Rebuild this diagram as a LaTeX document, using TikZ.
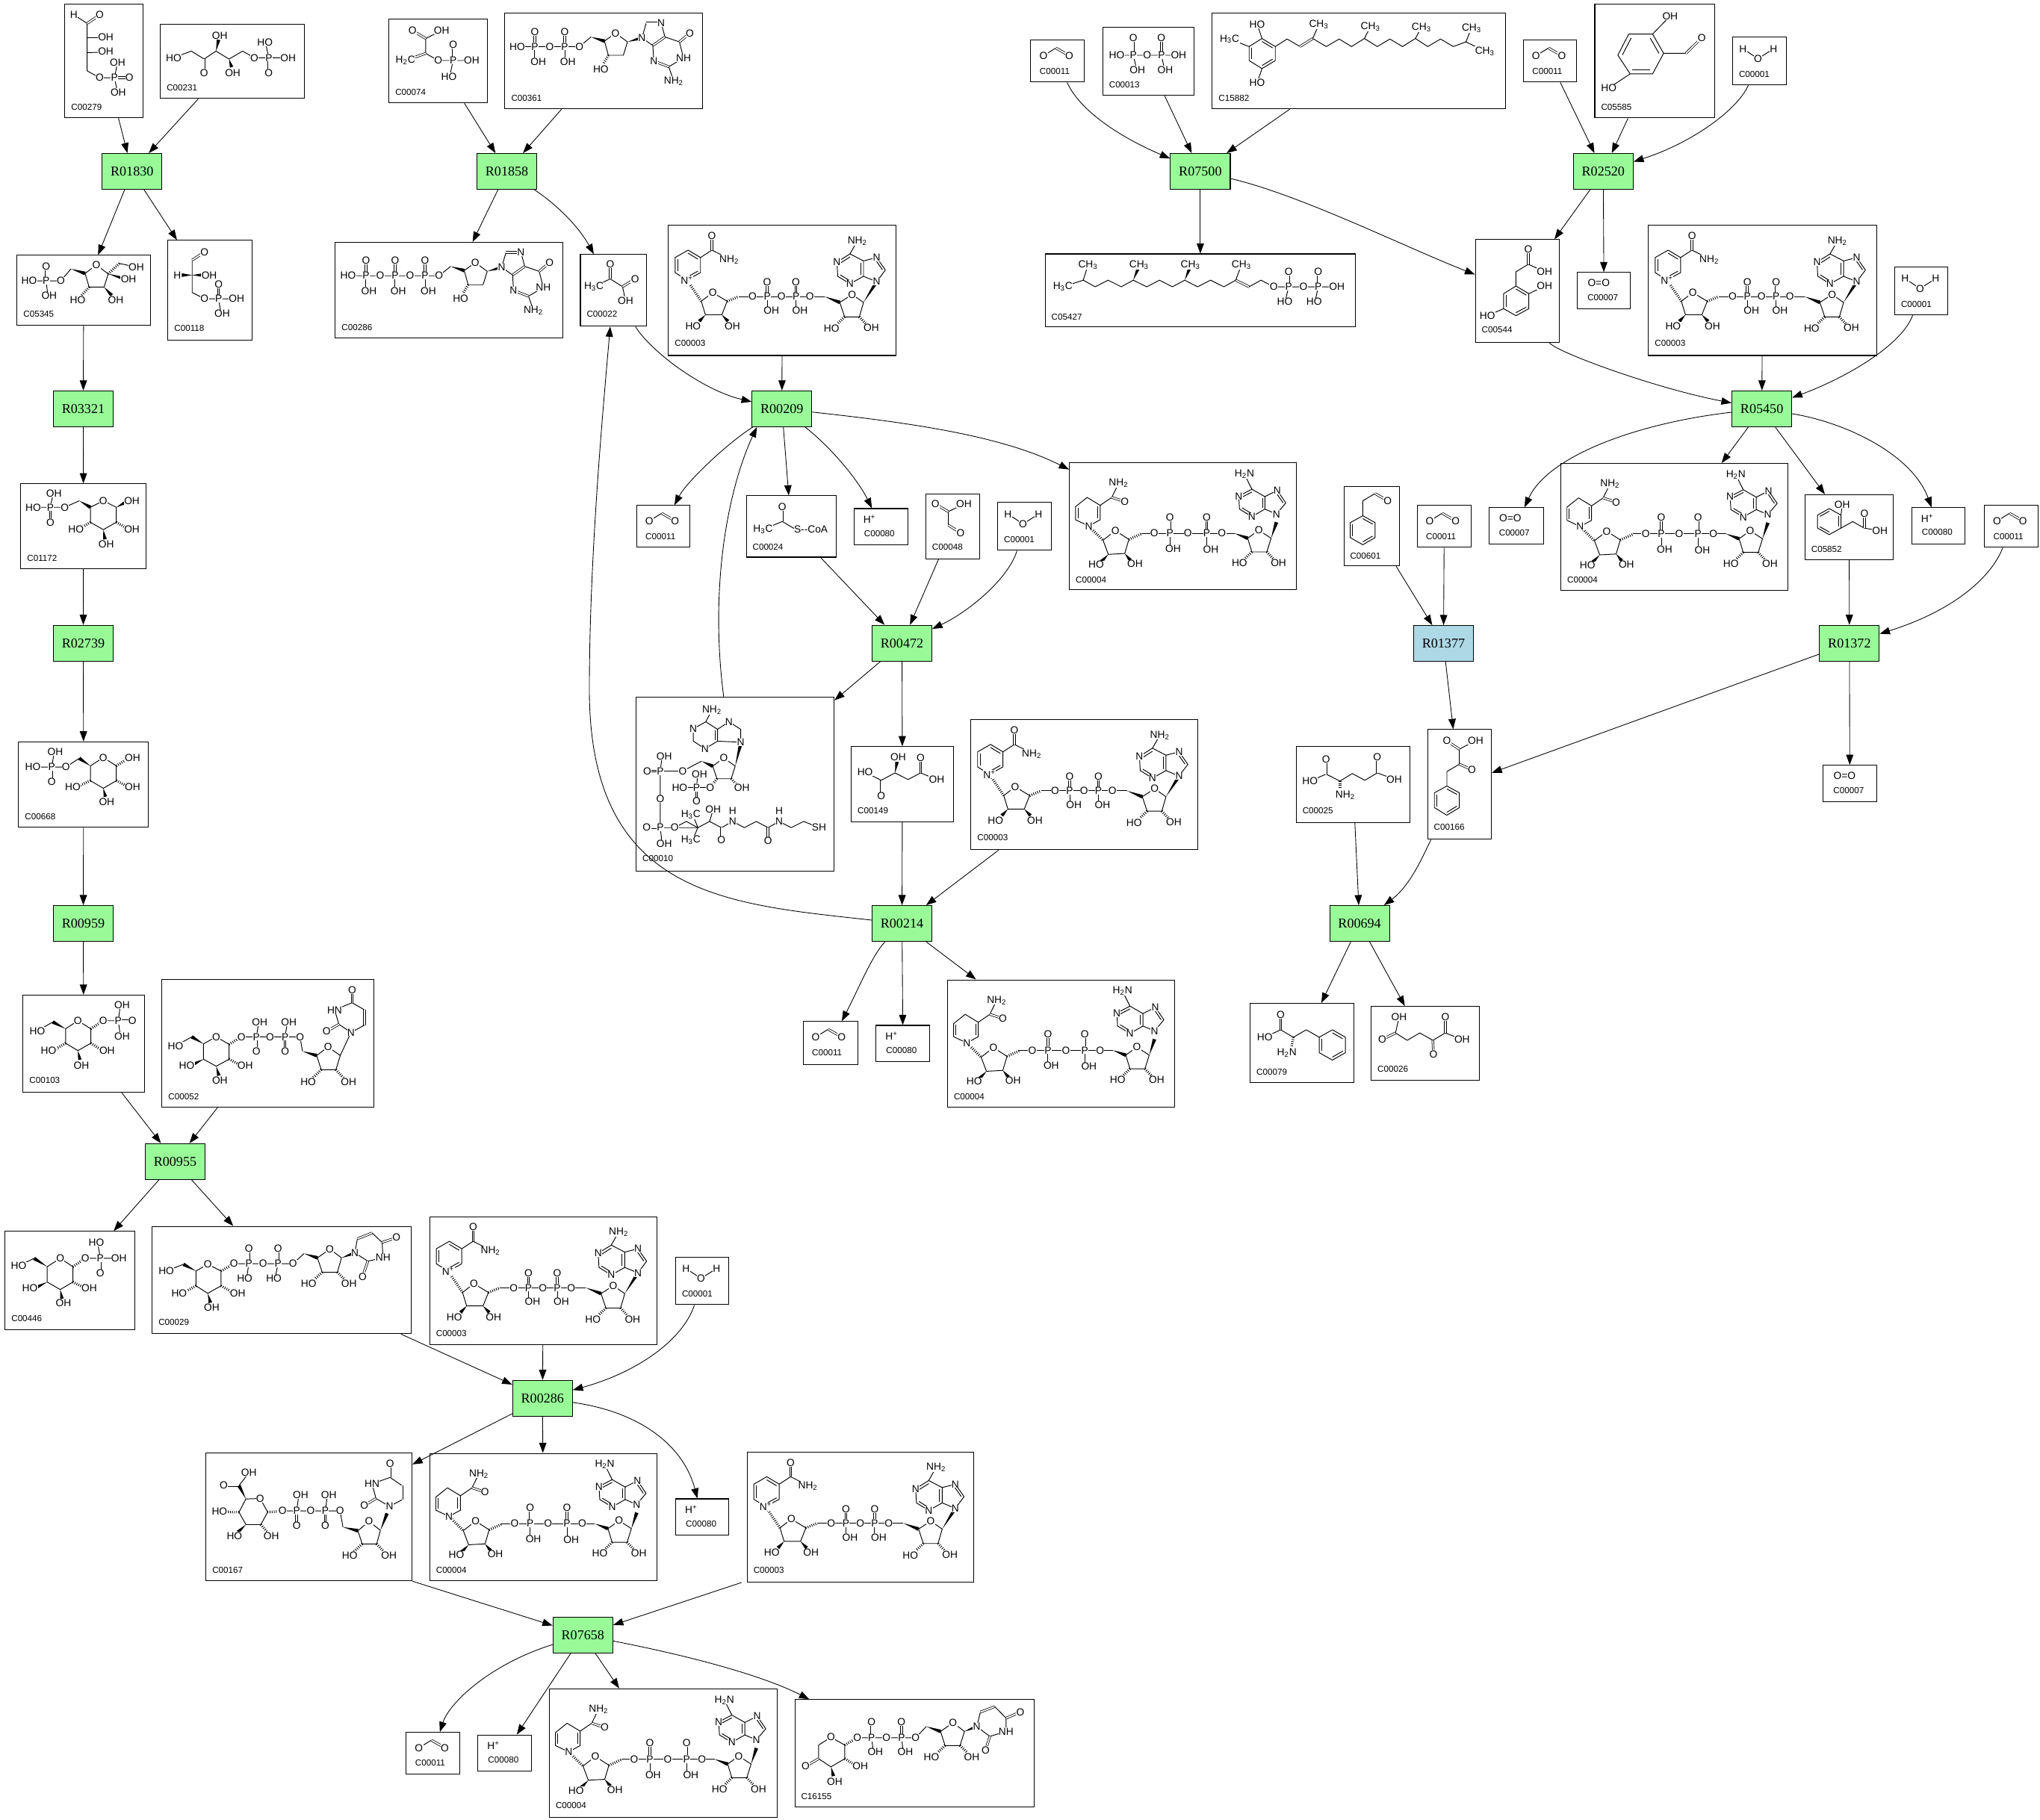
\documentclass[tikz,border=0pt]{standalone}
\usepackage{fontspec}
\setmainfont{Liberation Serif}
\newfontfamily\chemfont{Liberation Sans}
\usetikzlibrary{positioning,arrows.meta,calc}

\definecolor{rgreen}{RGB}{152,251,152}
\definecolor{rblue}{RGB}{173,216,230}

\tikzset{
  cpd/.style={draw=black, line width=0.6pt, inner sep=0pt, anchor=north west},
  cid/.style={font=\chemfont\fontsize{6.7}{7}\selectfont, inner sep=0pt, anchor=west},
  rct/.style={draw=black, line width=0.6pt, fill=rgreen, minimum width=46pt, minimum height=27.6pt, inner sep=0pt, font=\fontsize{10.4}{12}\selectfont},
  rctb/.style={rct, fill=rblue},
  edge/.style={draw=black, line width=0.5pt, -{Triangle[length=7.8pt,width=5.6pt]}},
  atm/.style={font=\chemfont\fontsize{7.9}{8}\selectfont, fill=white, inner sep=0.2pt},
  bnd/.style={draw=black, line width=0.55pt, line join=round},
  dbl/.style={draw=black, line width=0.45pt, double, double distance=1pt},
  hsh/.style={draw=black, line width=2pt, dash pattern=on 0.5pt off 1.1pt}
}

\newcounter{atmno}
\newcommand{\atm}[2]{\stepcounter{atmno}\node[atm] (atm\arabic{atmno}) at (#1) {#2};}
\newcommand{\wdg}[2]{\fill ($(#2)!1.4pt!90:(#1)$) -- ($(#2)!1.4pt!-90:(#1)$) -- (#1) -- cycle;}
\newcommand{\ibd}[3]{\draw[bnd] ($(#1)!.2!(#3)$) -- ($(#2)!.2!(#3)$);}
% [label x], name, id, left, top, width, height, label y, molecule
\newcommand{\cpdbox}[9][5]{
  \node[cpd, minimum width=#6pt, minimum height=#7pt] (#2) at (#4,#5) {};
  \begin{scope}[shift={(#4,#5)}]
    \node[cid] (#2id) at (#1,#8) {#3};
    #9
  \end{scope}
}

% small ones
\newcommand{\molWater}{\draw[bnd] (8.2,9.2)--(19.8,16.8)--(31.8,9.2); \atm{8.2,9.2}{H} \atm{19.8,16.8}{O} \atm{31.8,9.2}{H}}
\newcommand{\molCarb}{\draw[bnd] (10,12.2)--(19.6,6.3); \draw[dbl] (19.6,6.3)--(29.9,12.2); \atm{10,12.2}{O} \atm{29.9,12.2}{O}}
\newcommand{\molProton}{\atm{12.3,8.4}{H\textsuperscript{+}}}
\newcommand{\molOxy}{\atm{16.8,8.4}{O=O}}

% nucleotides
\newcommand{\molNad}{
  \draw[bnd] (5.4,25)--(15.4,19.3)--(24.9,25)--(24.9,36.6)--(14.5,42.3)--(5.4,36.6)--cycle;
  \ibd{5.4,25}{5.4,36.6}{15,31} \ibd{15.4,19.3}{24.9,25}{15,31} \ibd{24.9,36.6}{14.5,42.3}{15,31}
  \draw[bnd] (24.9,25)--(33.7,19.3)--(47,26); \draw[dbl] (33.7,19.3)--(33.7,8.4);
  \draw[hsh] (14.5,42.3)--(25.5,58.6);
  \draw[bnd] (25.5,58.6)--(34.3,51.9)--(45.4,58.6)--(41.3,69)--(28.7,69)--cycle;
  \wdg{28.7,69}{24,74} \wdg{41.3,69}{46,74}
  \draw[hsh] (45.4,58.6)--(54.2,55);
  \draw[bnd] (54.2,55)--(120.3,55); \draw[bnd] (76.2,55)--(76.2,65) (98.3,55)--(98.3,65);
  \draw[dbl] (76.2,55)--(76.2,44); \draw[dbl] (98.3,55)--(98.3,44);
  \wdg{120.3,55}{132,59.5}
  \draw[bnd] (132,59.5)--(141.4,53.4)--(150.2,59.5)--(147,70.6)--(135.7,70.6)--cycle;
  \draw[hsh] (135.7,70.6)--(130,76); \draw[hsh] (147,70.6)--(152,76);
  \wdg{150.2,59.5}{160.3,43.6}
  \draw[bnd] (160.3,43.6)--(167,34.6)--(160.3,25)--(150.2,27.6)--(150.2,39.4)--cycle;
  \ibd{167,34.6}{160.3,25}{156,34}
  \draw[bnd] (150.2,39.4)--(139.8,45.2)--(130.4,39.4)--(129.8,28.5)--(139.8,22.2)--(150.2,27.6);
  \draw[bnd] (139.8,22.2)--(145.5,12.2);
  \ibd{150.2,27.6}{150.2,39.4}{140,34} \ibd{129.8,28.5}{139.8,22.2}{140,34} \ibd{139.8,45.2}{130.4,39.4}{140,34}
  \atm{33.7,8.4}{O} \atm{47,26.5}{NH\textsubscript{2}} \atm{14.5,42.3}{N\textsuperscript{+}}
  \atm{34.3,51.9}{O} \atm{19.2,77.7}{HO} \atm{49.4,77.7}{OH}
  \atm{64.9,55}{O} \atm{76.2,55}{P} \atm{76.2,44}{O} \atm{79.4,65.8}{OH}
  \atm{87.2,55}{O} \atm{98.3,55}{P} \atm{98.3,44}{O} \atm{101.4,65.8}{OH} \atm{109,55}{O}
  \atm{141.4,53.4}{O} \atm{125.7,79.6}{HO} \atm{156.2,79.2}{OH}
  \atm{160.3,43.6}{N} \atm{160.3,25}{N} \atm{139.8,45.2}{N} \atm{129.8,28.5}{N} \atm{145.5,12.2}{NH\textsubscript{2}}
}
\newcommand{\molNadh}{
  \draw[bnd] (5,33.9)--(13.9,26.8)--(23.9,32.9)--(23.9,44)--(15.1,48.8)--(5,44)--cycle;
  \ibd{5,33.9}{5,44}{14,38} \ibd{23.9,32.9}{23.9,44}{14,38}
  \draw[bnd] (23.9,32.9)--(32.8,26.8)--(38.1,16); \draw[dbl] (32.8,26.8)--(42.8,30);
  \draw[hsh] (15.1,48.8)--(26.1,59.7);
  \draw[bnd] (26.1,59.7)--(35.6,52.4)--(46,59.1)--(42.8,69.9)--(30.2,70.6)--cycle;
  \wdg{30.2,70.6}{25,76} \wdg{42.8,69.9}{47,75}
  \draw[hsh] (46,59.1)--(55.4,54.9);
  \draw[bnd] (55.4,54.4)--(127.2,54.4); \draw[bnd] (77.5,54.4)--(77.5,65) (105.8,54.4)--(105.8,65);
  \draw[dbl] (77.5,54.4)--(77.5,41.9); \draw[dbl] (105.8,54.4)--(105.8,41.9);
  \wdg{127.2,54.4}{137.3,58.2}
  \draw[bnd] (137.3,58.2)--(145.8,52)--(155.3,58.2)--(152,68.7)--(140.5,68.7)--cycle;
  \draw[hsh] (140.5,68.7)--(135,74); \draw[hsh] (152,68.7)--(157,74);
  \wdg{155.3,58.2}{159.4,45.9}
  \draw[bnd] (159.4,39.6)--(166.6,31)--(160,21.4)--(150.5,26.2)--(150.5,35.8)--cycle;
  \ibd{166.6,31}{160,21.4}{156,31}
  \draw[bnd] (150.5,35.8)--(140.5,41.5)--(131,35.8)--(130.4,25.8)--(140.5,20.5)--(150.5,26.2);
  \draw[bnd] (140.5,20.5)--(134.8,9);
  \ibd{150.5,26.2}{150.5,35.8}{141,31} \ibd{130.4,25.8}{140.5,20.5}{141,31} \ibd{140.5,41.5}{131,35.8}{141,31}
  \atm{38.1,16}{NH\textsubscript{2}} \atm{42.8,30}{O} \atm{15.1,48.8}{N}
  \atm{35.6,52.4}{O} \atm{20.8,78.5}{HO} \atm{50.7,77.9}{OH}
  \atm{65.5,54.4}{O} \atm{77.5,54.4}{P} \atm{77.5,41.9}{O} \atm{80,66.4}{OH}
  \atm{91.3,54.4}{O} \atm{105.8,54.4}{P} \atm{105.8,41.9}{O} \atm{109,66.8}{OH} \atm{117.5,54.4}{O}
  \atm{145.8,52}{O} \atm{131,77.3}{HO} \atm{161,77.3}{OH}
  \atm{159.4,39.6}{N} \atm{160,21.4}{N} \atm{140.5,41.5}{N} \atm{130.4,25.8}{N} \atm{134.8,9}{H\textsubscript{2}N}
}
% deoxyguanosine tail, drawn from the CH2 on
\newcommand{\dguo}{
  \wdg{66.4,18.4}{76.8,21.6}
  \draw[bnd] (76.8,21.6)--(85.3,15.5)--(94.5,22.2)--(91.3,32.5)--(79.8,32.5)--cycle;
  \draw[hsh] (79.8,32.5)--(76,39);
  \wdg{94.5,22.2}{105.6,19.1}
  \draw[bnd] (105.6,19.1)--(108.9,7.7); \draw[dbl] (108.9,7.7)--(120.4,7.7);
  \draw[bnd] (120.4,7.7)--(123.3,18.4); \draw[dbl] (123.3,18.4)--(114,25);
  \draw[bnd] (114,25)--(105.6,19.1) (114,25)--(114.7,36.9) (123.3,18.4)--(134.4,22.2)--(137.6,34.6)--(126.2,41.3)--(130,52.2);
  \draw[dbl] (114.7,36.9)--(126.2,41.3); \draw[dbl] (134.4,22.2)--(142.4,15.5);
  \atm{85.3,15.5}{O} \atm{74,43.3}{HO} \atm{105.6,19.1}{N} \atm{120.4,7.7}{N} \atm{114.7,36.9}{N}
  \atm{137.6,34.6}{NH} \atm{130,52.2}{NH\textsubscript{2}} \atm{142.4,15.5}{O}
}
\newcommand{\molDgdp}{
  \draw[bnd] (9.8,25.8)--(57.6,25.8)--(66.4,18.4); \draw[bnd] (23.2,25.8)--(23.2,36) (46.3,25.8)--(46.3,36);
  \draw[dbl] (23.2,25.8)--(23.2,14.4); \draw[dbl] (46.3,25.8)--(46.3,14.4);
  \dguo
  \atm{9.8,25.8}{HO} \atm{23.2,25.8}{P} \atm{23.2,14.4}{O} \atm{26,37.3}{OH} \atm{34.8,25.8}{O}
  \atm{46.3,25.8}{P} \atm{46.3,14.4}{O} \atm{48.7,37.3}{OH} \atm{57.6,25.8}{O}
}
\newcommand{\molDgtp}{
  \draw[bnd] (10.1,26)--(80,26)--(89,18.8); \draw[bnd] (23.9,26)--(23.9,36) (46.3,26)--(46.3,36) (69.3,26)--(69.3,36);
  \draw[dbl] (23.9,26)--(23.9,14.5); \draw[dbl] (46.3,26)--(46.3,14.5); \draw[dbl] (69.3,26)--(69.3,14.5);
  \begin{scope}[shift={(22.6,0.4)}]\dguo\end{scope}
  \atm{10.1,26}{HO} \atm{23.9,26}{P} \atm{23.9,14.5}{O} \atm{26.2,37.5}{OH} \atm{34.8,26}{O}
  \atm{46.3,26}{P} \atm{46.3,14.5}{O} \atm{48.8,37.5}{OH} \atm{57.8,26}{O}
  \atm{69.3,26}{P} \atm{69.3,14.5}{O} \atm{71.8,37.5}{OH} \atm{80,26}{O}
}
\newcommand{\molCoa}{
  \draw[bnd] (58.5,10)--(53.8,19.1)--(44.2,24.5)--(44.2,34)--(53.2,39.8)--(62.8,34)--(62.8,24.9)--(53.8,19.1);
  \draw[bnd] (62.8,24.9)--(71.6,19.1)--(80.6,24.9)--(80.6,34.8)--(62.8,34);
  \ibd{62.8,24.9}{62.8,34}{54,29}
  \wdg{76.4,53.2}{80.6,36}
  \draw[bnd] (76.4,53.2)--(67.6,46.9)--(59.1,53.2)--(62.4,62.9)--(73.3,62.9)--cycle;
  \draw[hsh] (73.3,62.9)--(78,68); \draw[hsh] (62.4,62.9)--(57.2,69.6);
  \draw[bnd] (57.2,69.6)--(33.7,69.6) (46.7,69.6)--(47.5,60); \draw[dbl] (46.7,69.6)--(46.7,80.1);
  \wdg{50.5,49.4}{59.1,53.2}
  \draw[bnd] (50.5,49.4)--(36,57)--(18.8,57)--(18.8,100.5)--(47.7,100.5) (18.8,57)--(20,47) (18.8,100.5)--(20,111);
  \draw[dbl] (18.8,57)--(8.8,57); \draw[dbl] (18.8,100.5)--(8.4,100.5);
  \draw[bnd] (29.9,100.5)--(38.8,95.7)--(47.7,100.5)--(56.7,95.7)--(65.8,100.5)--(74.4,95.7)--(83.4,100.5)--(92.6,95.7)--(101.6,100.5)--(110.2,95.7)--(119.4,100.5)--(129,95.7)--(140.8,100.5);
  \draw[bnd] (47.7,100.5)--(44,91) (47.7,100.5)--(44,109) (56.7,95.7)--(59.5,86.5);
  \draw[dbl] (65.8,100.5)--(65.8,110); \draw[dbl] (101.6,100.5)--(101.6,110.7);
  \atm{58.5,10}{NH\textsubscript{2}} \atm{44.2,24.5}{N} \atm{53.2,39.8}{N} \atm{71.6,19.1}{N} \atm{80.6,34.8}{N}
  \atm{67.6,46.9}{O} \atm{81.5,69.6}{OH} \atm{57.2,69.6}{O} \atm{46.7,69.6}{P} \atm{49,59.5}{OH} \atm{33.7,69.6}{HO} \atm{46.7,80.1}{O}
  \atm{36,57}{O} \atm{18.8,57}{P} \atm{8.8,57}{O} \atm{21.8,45.4}{OH} \atm{18.8,78.5}{O}
  \atm{18.8,100.5}{P} \atm{8.4,100.5}{O} \atm{21.8,113}{OH} \atm{29.9,100.5}{O}
  \atm{42.3,90.3}{H\textsubscript{3}C} \atm{42.3,110}{H\textsubscript{3}C} \atm{59.5,86.5}{OH} \atm{65.8,110}{O}
  \atm{74.4,95.7}{N} \atm{74.4,87.6}{H} \atm{101.6,110.7}{O} \atm{110.2,95.7}{N} \atm{110.2,87.6}{H} \atm{140.8,100.5}{SH}
}
% uridine diphospho sugars
\newcommand{\molUdpGal}{
  \wdg{32.2,49.6}{23.2,44.2} \draw[bnd] (23.2,44.2)--(10.7,51.3);
  \draw[bnd] (32.2,49.6)--(42,44.2)--(51.9,50)--(51.9,61.4)--(42,66.8)--(32.2,61.4)--cycle;
  \wdg{32.2,61.4}{24,65.5} \draw[hsh] (51.9,61.4)--(60,65.5); \wdg{42,66.8}{44,74} \draw[hsh] (51.9,50)--(61.4,44.2);
  \draw[bnd] (61.4,44.2)--(106.4,44.2)--(108.3,55.3) (72.9,44.2)--(74.5,34) (94.9,44.2)--(96.5,34);
  \draw[dbl] (72.9,44.2)--(72.9,55.3); \draw[dbl] (94.9,44.2)--(94.9,55.3);
  \wdg{108.3,55.3}{119.2,58.6}
  \draw[bnd] (119.2,58.6)--(128,51.9)--(137.3,58.6)--(134,69.5)--(122.7,69.5)--cycle;
  \draw[hsh] (122.7,69.5)--(116,76); \draw[hsh] (134,69.5)--(140,76);
  \draw[bnd] (137.3,58.6)--(145.6,40.8)--(136.3,34.6)--(133,23.5)--(146.5,18)--(156,23.5); \draw[dbl] (156,23.5)--(156,35.2);
  \draw[bnd] (156,35.2)--(145.6,40.8); \draw[dbl] (136.3,34.6)--(126.8,40); \draw[dbl] (146.5,18)--(146.5,8.4);
  \atm{10.7,51.3}{HO} \atm{42,44.2}{O} \atm{19.3,66.2}{HO} \atm{64.3,66.2}{OH} \atm{44.8,77.7}{OH}
  \atm{61.4,44.2}{O} \atm{72.9,44.2}{P} \atm{75.4,32.7}{OH} \atm{72.9,55.3}{O} \atm{83.4,44.2}{O}
  \atm{94.9,44.2}{P} \atm{97.8,32.7}{OH} \atm{94.9,55.3}{O} \atm{106.4,44.2}{O}
  \atm{128,51.9}{O} \atm{112.7,78.7}{HO} \atm{143.8,78.7}{OH}
  \atm{145.6,40.8}{N} \atm{126.8,40}{O} \atm{133,23.5}{HN} \atm{146.5,8.4}{O}
}
\newcommand{\molUdpGlc}{
  \wdg{33.9,34.6}{24.3,29.5} \draw[bnd] (24.3,29.5)--(11.1,34.6);
  \draw[bnd] (33.9,34.6)--(43,29.5)--(53.2,34.6)--(53.2,46)--(43,51.8)--(33.9,46)--cycle;
  \draw[hsh] (33.9,46)--(25,51); \draw[hsh] (53.2,46)--(62,51); \wdg{43,51.8}{45,59} \draw[hsh] (53.2,34.6)--(63.2,29);
  \draw[bnd] (63.2,29)--(108.5,29)--(117,21.2) (74.6,29)--(73,39) (97,29)--(95,39);
  \draw[dbl] (74.6,29)--(74.6,17.4); \draw[dbl] (97,29)--(97,17.4);
  \wdg{117,21.2}{127.3,24.5}
  \draw[bnd] (127.3,24.5)--(136.8,17.8)--(145.8,24.5)--(142.6,35.6)--(131,35.6)--cycle;
  \draw[hsh] (131,35.6)--(125,41); \draw[hsh] (142.6,35.6)--(148,41);
  \wdg{145.8,24.5}{156,20.7}
  \draw[bnd] (156,20.7)--(158,9.8); \draw[dbl] (158,9.8)--(169.3,5.4);
  \draw[bnd] (169.3,5.4)--(177,12.6)--(177.7,24.5)--(166,27)--(156,20.7); \draw[dbl] (166,27)--(162,39); \draw[dbl] (177,12.6)--(188,9);
  \atm{11.1,34.6}{HO} \atm{43,29.5}{O} \atm{21,51.5}{HO} \atm{66,51.5}{OH} \atm{46,62.8}{OH}
  \atm{63.2,29}{O} \atm{74.6,29}{P} \atm{74.6,17.4}{O} \atm{71.4,40.4}{HO} \atm{85.5,29}{O}
  \atm{97,29}{P} \atm{97,17.4}{O} \atm{93.8,40.4}{HO} \atm{108.5,29}{O}
  \atm{136.8,17.8}{O} \atm{120.5,44.2}{HO} \atm{151.6,44.2}{OH}
  \atm{156,20.7}{N} \atm{162,39}{O} \atm{177.7,24.5}{NH} \atm{188,9}{O}
}
\newcommand{\molUdpGlcA}{
  \draw[dbl] (25.7,25.3)--(14,25.3); \draw[bnd] (25.7,25.3)--(33.3,15.5); \wdg{31,35.6}{25.7,25.3}
  \draw[bnd] (31,35.6)--(42,35.2)--(47.7,45.7)--(42.5,55.3)--(31,55.3)--(25.7,45.7)--cycle;
  \draw[hsh] (25.7,45.7)--(16,45.5); \wdg{31,55.3}{25,61} \draw[hsh] (42.5,55.3)--(47,60.5); \draw[hsh] (47.7,45.7)--(59.1,44.8);
  \draw[bnd] (59.1,44.8)--(103.4,44.8)--(105.6,57.2) (70,44.8)--(71.5,34) (92,44.8)--(93.5,34);
  \draw[dbl] (70,44.8)--(70,56.3); \draw[dbl] (92,44.8)--(92,56.3);
  \wdg{105.6,57.2}{117.1,60}
  \draw[bnd] (117.1,60)--(125.6,52.8)--(134.4,59.7)--(131.5,70.2)--(120.4,70.2)--cycle;
  \draw[hsh] (120.4,70.2)--(114,76); \draw[hsh] (131.5,70.2)--(137,76);
  \wdg{134.4,59.7}{139.5,46.7}
  \draw[bnd] (141.4,41.3)--(131,35.2)--(128,24)--(141.8,19)--(151,25.3); \draw[dbl] (151,25.3)--(151,36.2); \draw[bnd] (151,36.2)--(141.4,41.3);
  \draw[dbl] (131,35.2)--(122,40.6); \draw[dbl] (141.8,19)--(141.8,8.4);
  \atm{14,25.3}{O} \atm{33.3,15.5}{OH} \atm{42,35.2}{O} \atm{10.7,45.2}{HO} \atm{22.2,63.9}{HO} \atm{50.5,63.9}{OH}
  \atm{59.1,44.8}{O} \atm{70,44.8}{P} \atm{73.1,32.3}{OH} \atm{70,56.3}{O} \atm{80.8,44.8}{O}
  \atm{92,44.8}{P} \atm{94.7,32.3}{OH} \atm{92,56.3}{O} \atm{103.4,44.8}{O}
  \atm{125.6,52.8}{O} \atm{110.8,78.9}{HO} \atm{141,78.9}{OH}
  \atm{141.4,41.3}{N} \atm{122,40.6}{O} \atm{128,24}{HN} \atm{141.8,8.4}{O}
}
\newcommand{\molUdpKeto}{
  \draw[bnd] (18.6,35.2)--(28.1,29.1)--(38.7,35.2)--(38.7,45.7)--(28.1,51.9)--(18.6,45.7)--cycle;
  \draw[dbl] (18.6,45.7)--(8.6,51.5); \wdg{28.1,51.9}{30,59} \draw[hsh] (38.7,45.7)--(46,50); \draw[hsh] (38.7,35.2)--(48.4,29.5);
  \draw[bnd] (48.4,29.5)--(93.2,29.5)--(101.4,20.9) (59.3,29.5)--(60.5,39) (82.3,29.5)--(83.5,39);
  \draw[dbl] (59.3,29.5)--(59.3,17.6); \draw[dbl] (82.3,29.5)--(82.3,17.6);
  \wdg{101.4,20.9}{112.3,24.7}
  \draw[bnd] (112.3,24.7)--(121.9,18)--(130.7,24.7)--(127.3,35.6)--(115.8,35.6)--cycle;
  \draw[hsh] (115.8,35.6)--(110,41); \draw[hsh] (127.3,35.6)--(133,41);
  \wdg{130.7,24.7}{140.1,20.9}
  \draw[bnd] (140.1,20.9)--(143,9.8); \draw[dbl] (143,9.8)--(154,5.6);
  \draw[bnd] (154,5.6)--(162.7,14.5)--(162.7,24.7)--(150.2,28.5)--(140.1,20.9); \draw[dbl] (162.7,14.5)--(173.6,9.8); \draw[dbl] (150.2,28.5)--(147,39);
  \atm{28.1,29.1}{O} \atm{8.6,51.5}{O} \atm{31,63.3}{OH} \atm{50.7,51.5}{OH}
  \atm{48.4,29.5}{O} \atm{59.3,29.5}{P} \atm{59.3,17.6}{O} \atm{62.2,40.4}{OH} \atm{70.8,29.5}{O}
  \atm{82.3,29.5}{P} \atm{82.3,17.6}{O} \atm{85.2,40.4}{OH} \atm{93.2,29.5}{O}
  \atm{121.9,18}{O} \atm{105.3,44.2}{HO} \atm{136.3,44.2}{OH}
  \atm{140.1,20.9}{N} \atm{173.6,9.8}{O} \atm{162.7,24.7}{NH} \atm{147,39}{O}
}
% sugar phosphates
\newcommand{\molThreoseP}{
  \draw[bnd] (7.2,8.4)--(17.4,15)--(17.4,51.5)--(27,56.8)--(38.4,56.8)--(40.5,46) (38.4,56.8)--(40.5,67) (17.4,26)--(31,26) (17.4,37.5)--(31,37);
  \draw[dbl] (17.4,15)--(27,8.4); \draw[dbl] (38.4,56.8)--(49.9,56.8);
  \atm{7.2,8.4}{H} \atm{27,8.4}{O} \atm{31.7,25.3}{OH} \atm{31.7,36.7}{OH} \atm{27,56.8}{O}
  \atm{38.4,56.8}{P} \atm{49.9,56.8}{O} \atm{40.8,45.2}{OH} \atm{41.3,67.8}{OH}
}
\newcommand{\molKetoseP}{
  \draw[bnd] (10.5,25.8)--(24,20.7)--(33.9,26.8)--(43,20.7)--(53,26.8)--(63.5,20.7)--(72.5,25.8)--(98.4,25.8) (83.6,25.8)--(81,14);
  \draw[dbl] (33.9,26.8)--(33.9,37.3); \draw[dbl] (83.6,25.8)--(83.6,37.3);
  \wdg{43,20.7}{45,12} \wdg{53,26.8}{55,33}
  \atm{10.5,25.8}{HO} \atm{33.9,37.3}{O} \atm{45.9,8.6}{OH} \atm{55.9,37.3}{OH} \atm{72.5,25.8}{O}
  \atm{83.6,25.8}{P} \atm{80.7,14}{HO} \atm{83.6,37.3}{O} \atm{98.4,25.8}{OH}
}
\newcommand{\molFructoseP}{
  \draw[bnd] (9.6,19.9)--(34,19.9)--(41.7,10.7) (22.6,19.9)--(24,31); \draw[dbl] (22.6,19.9)--(22.6,8.8);
  \wdg{41.7,10.7}{52.6,14.2}
  \draw[bnd] (52.6,14.2)--(61.2,7.8)--(70.4,14.5)--(67.2,24.7)--(55.7,24.7)--cycle;
  \draw[hsh] (70.4,14.5)--(79,6.5); \draw[bnd] (79,6.5)--(92,9.4); \wdg{70.4,14.5}{83,18.4} \wdg{67.2,24.7}{73,31} \draw[hsh] (55.7,24.7)--(50,31);
  \atm{22.6,8.8}{O} \atm{22.6,19.9}{P} \atm{9.6,19.9}{HO} \atm{25,31.4}{OH} \atm{34,19.9}{O} \atm{61.2,7.8}{O}
  \atm{92,9.4}{OH} \atm{86,18.4}{OH} \atm{76.2,34.6}{OH} \atm{46.9,34.6}{HO}
}
\newcommand{\molGap}{
  \draw[bnd] (18.9,15.5)--(18.9,40.4)--(28.4,45.2)--(53,45.2) (39.2,45.2)--(41,56) ; \draw[dbl] (18.9,15.5)--(28.4,9.2); \draw[dbl] (39.2,45.2)--(39.2,34.3);
  \wdg{18.9,27}{11,27} \wdg{18.9,27}{27,27}
  \atm{28.4,9.2}{O} \atm{7.4,27}{H} \atm{32,27}{OH} \atm{28.4,45.2}{O} \atm{39.2,45.2}{P} \atm{39.2,34.3}{O} \atm{53,45.2}{OH} \atm{42,56.6}{OH}
}
\newcommand{\molGlcPa}{
  \draw[bnd] (9.8,18.4)--(34.1,18.4)--(45.2,13.4) (23,18.4)--(25,8.5); \draw[dbl] (23,18.4)--(23,29.9);
  \wdg{45.2,13.4}{53.8,18.4}
  \draw[bnd] (53.8,18.4)--(63.7,13.4)--(73.7,18.4)--(73.7,29.9)--(63.7,35.6)--(53.8,29.9)--cycle;
  \wdg{73.7,18.4}{81,14.5} \draw[hsh] (73.7,29.9)--(81,34); \wdg{63.7,35.6}{65,43} \draw[hsh] (53.8,29.9)--(47,34);
  \atm{23,18.4}{P} \atm{25.8,7.7}{OH} \atm{9.8,18.4}{HO} \atm{23,29.9}{O} \atm{34.1,18.4}{O} \atm{63.7,13.4}{O}
  \atm{85.7,13.4}{OH} \atm{85.7,35.6}{OH} \atm{66,47}{OH} \atm{42.7,35.6}{HO}
}
\newcommand{\molGlcPb}{
  \draw[bnd] (11.3,19.7)--(36.7,19.7)--(46.9,13) (25.8,19.7)--(27.5,9); \draw[dbl] (25.8,19.7)--(25.8,31.2);
  \wdg{55.5,18.8}{46.9,13}
  \draw[bnd] (55.5,18.8)--(65.4,12.4)--(75.4,18.8)--(75.4,30.2)--(65.4,36)--(55.5,30.2)--cycle;
  \draw[hsh] (75.4,18.8)--(83,14); \draw[hsh] (75.4,30.2)--(83,34); \wdg{65.4,36}{67,42.5} \draw[hsh] (55.5,30.2)--(47,34);
  \atm{25.8,19.7}{P} \atm{28.5,8.2}{OH} \atm{11.3,19.7}{HO} \atm{25.8,31.2}{O} \atm{36.7,19.7}{O} \atm{65.4,12.4}{O}
  \atm{87.9,12.4}{OH} \atm{87.9,35}{OH} \atm{68,46.5}{OH} \atm{42,35}{HO}
}
\newcommand{\molGlcOne}{
  \draw[bnd] (11.3,27.8)--(23.2,21); \wdg{33,26.2}{23.2,21}
  \draw[bnd] (33,26.2)--(42.5,20)--(52.4,26.2)--(52.4,37.3)--(42.5,43)--(33,37.3)--cycle;
  \draw[hsh] (52.4,26.2)--(62,20); \draw[bnd] (62,20)--(73.5,20) (73.5,20)--(75,9) (73.5,20)--(75,31); \draw[dbl] (73.5,20)--(84.4,20);
  \draw[hsh] (52.4,37.3)--(60,42); \wdg{42.5,43}{44,50} \draw[hsh] (33,37.3)--(25,42);
  \atm{11.3,27.8}{HO} \atm{42.5,20}{O} \atm{62,20}{O} \atm{73.5,20}{P} \atm{76.4,8}{OH} \atm{84.4,20}{O} \atm{76.4,32}{OH}
  \atm{64.9,42.7}{OH} \atm{45.2,54.2}{OH} \atm{19.9,42.7}{HO}
}
\newcommand{\molGalOne}{
  \draw[bnd] (10.7,26.8)--(22.6,21); \wdg{32.7,27.4}{22.6,21}
  \draw[bnd] (32.7,27.4)--(42.7,21)--(52.4,27.4)--(52.4,39.2)--(42.7,45)--(32.7,39.2)--cycle;
  \draw[hsh] (52.4,27.4)--(62,21); \draw[bnd] (62,21)--(87.8,21) (73.5,21)--(71.5,9); \draw[dbl] (73.5,21)--(73.5,32.5);
  \draw[hsh] (52.4,39.2)--(60,43); \wdg{42.7,45}{44,52} \wdg{32.7,39.2}{24,43.5}
  \atm{10.7,26.8}{HO} \atm{42.7,21}{O} \atm{62,21}{O} \atm{73.5,21}{P} \atm{70.4,8.6}{HO} \atm{87.8,21}{OH} \atm{73.5,32.5}{O}
  \atm{65,44}{OH} \atm{45.2,55.5}{OH} \atm{19.3,44}{HO}
}
% small acids
\newcommand{\molPep}{
  \draw[bnd] (28.5,15.1)--(40.8,9) (28.5,15.1)--(28.5,26.6)--(38.1,32)--(63.9,32) (49.6,32)--(47,44);
  \draw[dbl] (28.5,15.1)--(18.4,9); \draw[dbl] (28.5,26.6)--(12.9,32); \draw[dbl] (49.6,32)--(49.6,19.9);
  \atm{18.4,9}{O} \atm{40.8,9}{OH} \atm{12.9,32}{H\textsubscript{2}C} \atm{38.1,32}{O} \atm{49.6,32}{P} \atm{49.6,19.9}{O} \atm{63.9,32}{OH} \atm{46.3,44.4}{HO}
}
\newcommand{\molPyr}{
  \draw[bnd] (10.7,25)--(23.2,19)--(32.7,25)--(35,35.8); \draw[dbl] (23.2,19)--(23.2,7.5); \draw[dbl] (32.7,25)--(42.3,19);
  \atm{23.2,7.5}{O} \atm{10.7,25}{H\textsubscript{3}C} \atm{42.3,19}{O} \atm{35,35.8}{OH}
}
\newcommand{\molAcCoa}{
  \draw[bnd] (13.2,26.2)--(28,20)--(38.4,26.2); \draw[dbl] (28,20)--(28,9);
  \atm{28,9}{O} \atm{13.2,26.2}{H\textsubscript{3}C} \atm{50,26.2}{S--CoA}
}
\newcommand{\molGlyox}{
  \draw[bnd] (17.6,13.6)--(29.6,7.8) (17.6,13.6)--(17.6,24); \draw[dbl] (17.6,13.6)--(7.6,7.8); \draw[dbl] (17.6,24)--(27,29.9);
  \atm{7.6,7.8}{O} \atm{29.6,7.8}{OH} \atm{27,29.9}{O}
}
\newcommand{\molMalate}{
  \draw[bnd] (10.9,19.9)--(23.3,26.2)--(33.9,20.5)--(44,25.6)--(53.6,20.5)--(66,25.6); \draw[dbl] (23.3,26.2)--(23.3,38.3); \draw[dbl] (53.6,20.5)--(53.6,9);
  \wdg{33.9,20.5}{35.5,12}
  \atm{10.9,19.9}{HO} \atm{23.3,38.3}{O} \atm{36.4,8.4}{OH} \atm{53.6,9}{O} \atm{66,25.6}{OH}
}
\newcommand{\molPpi}{
  \draw[bnd] (11,21.6)--(58.6,21.6) (23.8,21.6)--(26,31) (45.4,21.6)--(47.5,31); \draw[dbl] (23.8,21.6)--(23.8,8.4); \draw[dbl] (45.4,21.6)--(45.4,8.4);
  \atm{11,21.6}{HO} \atm{23.8,21.6}{P} \atm{23.8,8.4}{O} \atm{27,32.7}{OH} \atm{34.4,21.6}{O} \atm{45.4,21.6}{P} \atm{45.4,8.4}{O} \atm{48.3,32.7}{OH} \atm{58.6,21.6}{OH}
}
\newcommand{\molPhytyl}{
  \draw[bnd] (28.6,25.8)--(38.5,19.6)--(48.7,25.8)--(48.7,36.6)--(38.5,42.7)--(28.6,36.6)--cycle;
  \ibd{38.5,19.6}{48.7,25.8}{38.6,31} \ibd{48.7,36.6}{38.5,42.7}{38.6,31} \ibd{28.6,36.6}{28.6,25.8}{38.6,31}
  \draw[bnd] (13.6,20)--(28.6,25.8) (38.5,19.6)--(34.8,8.6) (38.5,42.7)--(34.8,53.5);
  \draw[bnd] (48.7,25.8)--(57.8,20)--(67.7,25.8); \draw[dbl] (67.7,25.8)--(77.5,19.6);
  \draw[bnd] (77.5,19.6)--(87.9,25.8)--(97.8,20)--(107.3,25.8)--(117.2,19.6)--(127.1,25.8)--(136.8,20)--(146.5,25.8)--(156.4,19.6)--(165.9,25.8)--(175.7,20)--(185.5,25.8)--(195.2,22.2)--(209.8,29.3);
  \draw[bnd] (77.5,19.6)--(82.2,9) (117.2,19.6)--(121.9,10.5) (156.4,19.6)--(161.1,11) (195.2,22.2)--(199.6,11.5);
  \atm{13.6,20}{H\textsubscript{3}C} \atm{34.8,8.6}{HO} \atm{34.8,53.5}{HO}
  \atm{82.2,9}{CH\textsubscript{3}} \atm{121.9,10.5}{CH\textsubscript{3}} \atm{161.1,11}{CH\textsubscript{3}} \atm{199.6,11.5}{CH\textsubscript{3}} \atm{209.8,29.3}{CH\textsubscript{3}}
}
\newcommand{\molPhytylPP}{
  \draw[bnd] (13.9,25.6)--(29.6,20.5)--(38.8,25.6)--(48.7,20.5)--(58.9,25.6)--(68,20.5)--(78.4,25.6)--(88.2,20.5)--(98.1,25.6)--(107.6,20.5)--(117.5,25.6)--(127.4,20.5)--(137.7,25.6)--(146.8,20.5);
  \draw[dbl] (146.8,20.5)--(157.1,25.6);
  \draw[bnd] (157.1,25.6)--(166.2,20.5)--(176,25.6)--(224.5,25.6) (187.5,25.6)--(185,36) (210.2,25.6)--(208,36) (29.6,20.5)--(33.3,8.6) (146.8,20.5)--(151.2,8.6);
  \wdg{68,20.5}{72,11} \wdg{107.6,20.5}{111.5,11}
  \draw[dbl] (187.5,25.6)--(187.5,14.2); \draw[dbl] (210.2,25.6)--(210.2,14.2);
  \atm{13.9,25.6}{H\textsubscript{3}C} \atm{33.3,8.6}{CH\textsubscript{3}} \atm{72.5,9}{CH\textsubscript{3}} \atm{112,9}{CH\textsubscript{3}} \atm{151.2,9}{CH\textsubscript{3}}
  \atm{176,25.6}{O} \atm{187.5,25.6}{P} \atm{187.5,14.2}{O} \atm{184.5,37}{HO} \atm{198.8,25.6}{O} \atm{210.2,25.6}{P} \atm{210.2,14.2}{O} \atm{207,37}{HO} \atm{224.5,25.6}{OH}
}
\newcommand{\molGentAld}{
  \draw[bnd] (44.7,23.2)--(26.4,23.2)--(18,39.4)--(27.5,53.8)--(44.7,53.8)--(53.2,38)--cycle;
  \ibd{26.4,23.2}{18,39.4}{35.6,38.5} \ibd{27.5,53.8}{44.7,53.8}{35.6,38.5} \ibd{53.2,38}{44.7,23.2}{35.6,38.5}
  \draw[bnd] (44.7,23.2)--(58.2,9.4) (53.2,38)--(70.4,38) (27.5,53.8)--(11,64.7); \draw[dbl] (70.4,38)--(82.5,26);
  \atm{58.2,9.4}{OH} \atm{82.5,26}{O} \atm{11,64.7}{HO}
}
\newcommand{\molHga}{
  \draw[bnd] (31.5,36)--(41.4,41.9)--(41.4,53.4)--(31.5,58.8)--(22,53.4)--(22,41.9)--cycle;
  \ibd{31.5,36}{41.4,41.9}{31.5,47.4} \ibd{41.4,53.4}{31.5,58.8}{31.5,47.4} \ibd{22,53.4}{22,41.9}{31.5,47.4}
  \draw[bnd] (31.5,36)--(31.5,25)--(41,19.3)--(53.5,25) (41.4,41.9)--(53.5,36) (22,53.4)--(9.5,58.8); \draw[dbl] (41,19.3)--(41,7.5);
  \atm{41,7.5}{O} \atm{53.5,25}{OH} \atm{53.5,36}{OH} \atm{9.5,58.8}{HO}
}
\newcommand{\molHpa}{
  \draw[bnd] (10,16)--(19,11)--(28,16)--(28,26)--(19,31)--(10,26)--cycle;
  \ibd{10,16}{19,11}{19,21} \ibd{28,16}{28,26}{19,21} \ibd{19,31}{10,26}{19,21}
  \draw[bnd] (28,16)--(29,8) (28,26)--(37,21)--(46,26)--(58,28); \draw[dbl] (46,26)--(46,16);
  \atm{29,8}{OH} \atm{58,28}{OH} \atm{46,15}{O}
}
\newcommand{\molPaa}{
  \draw[bnd] (14.9,22.5)--(24.3,27.8)--(24.3,39.3)--(14.9,44.8)--(5.2,39.3)--(5.2,27.8)--cycle;
  \ibd{14.9,22.5}{24.3,27.8}{14.9,33.5} \ibd{24.3,39.3}{14.9,44.8}{14.9,33.5} \ibd{5.2,39.3}{5.2,27.8}{14.9,33.5}
  \draw[bnd] (14.9,22.5)--(14.9,11)--(24.3,5.4); \draw[dbl] (24.3,5.4)--(34,11);
  \atm{34,11}{O}
}
\newcommand{\molPpy}{
  \draw[bnd] (15.1,43.8)--(24.7,49)--(24.7,60.4)--(15.1,66.2)--(5.5,60.4)--(5.5,49)--cycle;
  \ibd{15.1,43.8}{24.7,49}{15.1,55} \ibd{24.7,60.4}{15.1,66.2}{15.1,55} \ibd{5.5,60.4}{5.5,49}{15.1,55}
  \draw[bnd] (15.1,43.8)--(15.1,32.7)--(24.7,27)--(24.7,15.5)--(37.2,8.8); \draw[dbl] (24.7,15.5)--(15.1,9.2); \draw[dbl] (24.7,27)--(34.3,31.2);
  \atm{15.1,9.2}{O} \atm{37.2,8.8}{OH} \atm{34.3,31.2}{O}
}
\newcommand{\molGlu}{
  \draw[bnd] (10.9,26.8)--(23.3,21.4)--(33.9,26.8)--(43.4,21)--(53,26.2)--(62.6,20.5)--(75.6,25.3); \draw[dbl] (23.3,21.4)--(23.3,10); \draw[dbl] (62.6,20.5)--(62.6,8.4);
  \draw[hsh] (33.9,26.8)--(33.9,33);
  \atm{23.3,10}{O} \atm{10.9,26.8}{HO} \atm{38,37.7}{NH\textsubscript{2}} \atm{62.6,8.4}{O} \atm{75.6,25.3}{OH}
}
\newcommand{\molPhe}{
  \draw[bnd] (11.5,26.4)--(23.7,20.7)--(33.5,26.4)--(43.4,20.7)--(53.4,26.4); \draw[dbl] (23.7,20.7)--(23.7,9); \draw[hsh] (33.5,26.4)--(32,34);
  \draw[bnd] (53.4,26.4)--(63.5,20.7)--(73.5,26.4)--(73.5,38.3)--(63.5,44)--(53.4,38.3)--cycle;
  \ibd{63.5,20.7}{73.5,26.4}{63.5,32.3} \ibd{73.5,38.3}{63.5,44}{63.5,32.3} \ibd{53.4,38.3}{53.4,26.4}{63.5,32.3}
  \atm{23.7,9}{O} \atm{11.5,26.4}{HO} \atm{28.5,38.3}{H\textsubscript{2}N}
}
\newcommand{\molAkg}{
  \draw[bnd] (21.8,8.6)--(19,20.7)--(28,26.4)--(37.7,20.7)--(47.7,26.4)--(57.3,20.7)--(70.2,25.8); \draw[dbl] (19,20.7)--(8.8,25.8); \draw[dbl] (47.7,26.4)--(48.2,36.9); \draw[dbl] (57.3,20.7)--(57.3,8.6);
  \atm{21.8,8.6}{OH} \atm{8.8,25.8}{O} \atm{48.2,36.9}{O} \atm{57.3,8.6}{O} \atm{70.2,25.8}{OH}
}

\begin{document}
\begin{tikzpicture}[x=1pt, y=-1pt]
\useasboundingbox (0,0) rectangle (1568,1399.2);

% compounds
\cpdbox{cThreoseP}{C00279}{49.6}{3}{60}{87.3}{79.2}{\molThreoseP}
\cpdbox{cKetoseP}{C00231}{123}{18.6}{110.5}{56.8}{48.8}{\molKetoseP}
\cpdbox{cFructoseP}{C05345}{12.8}{196}{102.4}{54}{45.2}{\molFructoseP}
\cpdbox{cGap}{C00118}{128.8}{184.5}{64.5}{76.9}{68}{\molGap}
\cpdbox{cGlcPa}{C01172}{15.7}{371.6}{96.3}{65.4}{57.8}{\molGlcPa}
\cpdbox{cGlcPb}{C00668}{14}{570}{99.9}{65.8}{58}{\molGlcPb}
\cpdbox{cGlcOne}{C00103}{17.4}{764.7}{93.2}{74.7}{65.6}{\molGlcOne}
\cpdbox{cUdpGal}{C00052}{124.2}{752.9}{162.7}{97.9}{90}{\molUdpGal}
\cpdbox{cGalOne}{C00446}{3.6}{946.4}{99.6}{75.4}{67}{\molGalOne}
\cpdbox{cUdpGlc}{C00029}{116.7}{942.5}{199.3}{82.5}{74}{\molUdpGlc}
\cpdbox{cPep}{C00074}{298.7}{14.5}{75.5}{64.3}{56.3}{\molPep}
\cpdbox{cDgdp}{C00361}{387.8}{10}{151.9}{73.4}{65.3}{\molDgdp}
\cpdbox{cDgtp}{C00286}{257.4}{186}{175}{73.7}{65.5}{\molDgtp}
\cpdbox{cPyr}{C00022}{445.8}{195.4}{50.7}{55.1}{46.3}{\molPyr}
\cpdbox{cNadA}{C00003}{513.5}{173}{174.9}{100}{91}{\molNad}
\cpdbox{cNadhA}{C00004}{821.7}{355.6}{174.3}{97.4}{90}{\molNadh}
\cpdbox[7]{cCarbA}{C00011}{489}{388.3}{41}{32.2}{24}{\molCarb}
\cpdbox{cAcCoa}{C00024}{573.3}{380.9}{69}{47.1}{39.6}{\molAcCoa}
\cpdbox[8]{cProtA}{C00080}{656}{390.7}{41.6}{27.7}{19.3}{\molProton}
\cpdbox{cGlyox}{C00048}{711.3}{379.7}{41.4}{49.6}{40.8}{\molGlyox}
\cpdbox{cWaterA}{C00001}{766.5}{386}{41.3}{36.8}{28.7}{\molWater}
\cpdbox{cCoa}{C00010}{488.7}{535.8}{152.1}{133.7}{124.4}{\molCoa}
\cpdbox{cMalate}{C00149}{654}{573.7}{78.6}{57.9}{49.8}{\molMalate}
\cpdbox{cNadB}{C00003}{746}{553}{174.5}{100}{91}{\molNad}
\cpdbox[7]{cCarbB}{C00011}{617}{785}{42}{33}{24}{\molCarb}
\cpdbox[8]{cProtB}{C00080}{673}{788}{41.4}{28}{19.3}{\molProton}
\cpdbox{cNadhB}{C00004}{728}{753}{174.3}{98}{90}{\molNadh}
\cpdbox[7]{cCarbC}{C00011}{792}{30.6}{41}{32.2}{24}{\molCarb}
\cpdbox{cPpi}{C00013}{847.3}{20.9}{70.3}{52.2}{44.2}{\molPpi}
\cpdbox{cPhytyl}{C15882}{931.5}{10}{225.2}{73.4}{65.5}{\molPhytyl}
\cpdbox{cPhytylPP}{C05427}{803}{194.9}{238.6}{56.1}{48.6}{\molPhytylPP}
\cpdbox[7]{cCarbD}{C00011}{1170.6}{30.6}{41}{32.2}{24}{\molCarb}
\cpdbox{cGentAld}{C05585}{1225.5}{3}{91.9}{87.4}{79.2}{\molGentAld}
\cpdbox{cWaterB}{C00001}{1331.4}{28.3}{41.2}{36.7}{28.7}{\molWater}
\cpdbox{cHga}{C00544}{1133.7}{183.9}{64.3}{79}{69.7}{\molHga}
\cpdbox[8]{cOxyA}{C00007}{1212}{209.2}{41}{27.8}{19.5}{\molOxy}
\cpdbox{cNadC}{C00003}{1266.8}{173}{175.2}{100}{91}{\molNad}
\cpdbox{cWaterC}{C00001}{1456}{205}{41}{36.7}{28.7}{\molWater}
\cpdbox[8]{cOxyB}{C00007}{1144}{390}{42}{28}{19.5}{\molOxy}
\cpdbox{cNadhC}{C00004}{1199.4}{356}{174.6}{97.4}{90}{\molNadh}
\cpdbox{cHpa}{C05852}{1387}{380}{68}{50}{42}{\molHpa}
\cpdbox[8]{cProtC}{C00080}{1469}{390}{41}{28}{19.3}{\molProton}
\cpdbox[7]{cCarbE}{C00011}{1525}{388.3}{41}{32.2}{24}{\molCarb}
\cpdbox{cPaa}{C00601}{1032.6}{374}{42.8}{60.8}{53.4}{\molPaa}
\cpdbox[7]{cCarbF}{C00011}{1088.9}{388.3}{41.7}{32.1}{24}{\molCarb}
\cpdbox{cPpy}{C00166}{1097}{560.5}{49}{84.5}{75.2}{\molPpy}
\cpdbox{cGlu}{C00025}{996}{573.7}{87.4}{58.3}{49.8}{\molGlu}
\cpdbox[8]{cOxyC}{C00007}{1401}{588}{41}{28}{19.5}{\molOxy}
\cpdbox{cPhe}{C00079}{960.6}{771}{79.8}{61}{53.2}{\molPhe}
\cpdbox{cAkg}{C00026}{1053.6}{773.4}{83.2}{56.6}{48.6}{\molAkg}
\cpdbox{cNadD}{C00003}{330}{935}{174.5}{98.5}{90}{\molNad}
\cpdbox{cWaterD}{C00001}{519}{966}{41}{36.7}{28.7}{\molWater}
\cpdbox{cUdpGlcA}{C00167}{158}{1116.8}{158.4}{98.2}{90.3}{\molUdpGlcA}
\cpdbox{cNadhD}{C00004}{330}{1117}{174.5}{98}{90}{\molNadh}
\cpdbox[8]{cProtD}{C00080}{519}{1152}{41}{28}{19.3}{\molProton}
\cpdbox{cNadE}{C00003}{574}{1116}{174.3}{100}{91}{\molNad}
\cpdbox[7]{cCarbG}{C00011}{312}{1331.5}{41}{32.2}{24}{\molCarb}
\cpdbox[8]{cProtE}{C00080}{367}{1333.5}{41}{28}{19.3}{\molProton}
\cpdbox{cNadhE}{C00004}{422}{1298}{175}{99}{90}{\molNadh}
\cpdbox{cUdpKeto}{C16155}{610.6}{1306.4}{184}{82.6}{74.8}{\molUdpKeto}

% reactions
\node[rct] (R01830) at (101.5,131.8) {R01830};
\node[rct] (R01858) at (389.6,131.8) {R01858};
\node[rct] (R07500) at (922.6,131.8) {R07500};
\node[rct] (R02520) at (1232.3,131.8) {R02520};
\node[rct] (R03321) at (64,314.3) {R03321};
\node[rct] (R00209) at (601,314.3) {R00209};
\node[rct] (R05450) at (1354.2,314.3) {R05450};
\node[rct] (R02739) at (64,494.5) {R02739};
\node[rct] (R00472) at (693.3,494.5) {R00472};
\node[rctb] (R01377) at (1109.5,494.7) {R01377};
\node[rct] (R01372) at (1421.5,494.5) {R01372};
\node[rct] (R00959) at (64,710) {R00959};
\node[rct] (R00214) at (693.3,710) {R00214};
\node[rct] (R00694) at (1045,710) {R00694};
\node[rct] (R00955) at (134.6,893) {R00955};
\node[rct] (R00286) at (417,1075) {R00286};
\node[rct] (R07658) at (448,1257) {R07658};

% left column
\draw[edge] (cThreoseP) -- (R01830);
\draw[edge] (cKetoseP) -- (R01830);
\draw[edge] (R01830) -- (cFructoseP);
\draw[edge] (R01830) -- (cGap);
\draw[edge] (cFructoseP) -- (R03321);
\draw[edge] (R03321) -- (cGlcPa);
\draw[edge] (cGlcPa) -- (R02739);
\draw[edge] (R02739) -- (cGlcPb);
\draw[edge] (cGlcPb) -- (R00959);
\draw[edge] (R00959) -- (cGlcOne);
\draw[edge] (cGlcOne) -- (R00955);
\draw[edge] (cUdpGal) -- (R00955);
\draw[edge] (R00955) -- (cGalOne);
\draw[edge] (R00955) -- (cUdpGlc);
\draw[edge] (cUdpGlc) -- (R00286);
\draw[edge] (cNadD) -- (R00286);
\draw[edge] (cWaterD) .. controls (525,1030) and (490,1055) .. (R00286);
\draw[edge] (R00286) -- (cUdpGlcA);
\draw[edge] (R00286) -- (cNadhD);
\draw[edge] (R00286) .. controls (490,1085) and (525,1110) .. (cProtD);
\draw[edge] (cUdpGlcA.south east) -- (R07658);
\draw[edge] ([xshift=-4pt]cNadE.south west) -- (R07658);
\draw[edge] (R07658) .. controls (375,1280) and (345,1310) .. (cCarbG);
\draw[edge] (R07658) -- (cProtE);
\draw[edge] (R07658) -- (cNadhE);
\draw[edge] (R07658) .. controls (540,1275) and (590,1290) .. (cUdpKeto);

% middle
\draw[edge] (cPep) -- (R01858);
\draw[edge] (cDgdp) -- (R01858);
\draw[edge] (R01858) -- (cDgtp);
\draw[edge] (R01858) .. controls (432,160) and (447,178) .. (cPyr);
\draw[edge] (cPyr) .. controls (500,270) and (540,300) .. (R00209);
\draw[edge] (cNadA) -- (R00209);
\draw[edge] (R00209) .. controls (560,340) and (528,370) .. (cCarbA);
\draw[edge] (R00209) -- (cAcCoa);
\draw[edge] (R00209) .. controls (640,345) and (660,370) .. (cProtA);
\draw[edge] (R00209) .. controls (700,325) and (770,335) .. (cNadhA);
\draw[edge] (cCoa) .. controls (545,450) and (560,375) .. ([xshift=4pt]R00209.south west);
\draw[edge] (cAcCoa) -- (R00472);
\draw[edge] (cGlyox) -- (R00472);
\draw[edge] (cWaterA) .. controls (775,445) and (745,470) .. (R00472);
\draw[edge] (R00472) -- (cCoa);
\draw[edge] (R00472) -- (cMalate);
\draw[edge] (cMalate) -- (R00214);
\draw[edge] (cNadB) -- (R00214);
\draw[edge] (R00214) .. controls (560,695) and (453,690) .. (453,530) .. controls (453,430) and (463,320) .. (cPyr);
\draw[edge] (R00214) .. controls (670,735) and (660,760) .. (cCarbB);
\draw[edge] (R00214) -- (cProtB);
\draw[edge] (R00214) -- (cNadhB);

% right
\draw[edge] (cCarbC) .. controls (830,85) and (860,105) .. (R07500);
\draw[edge] (cPpi) -- (R07500);
\draw[edge] (cPhytyl) -- (R07500);
\draw[edge] (R07500) -- (cPhytylPP);
\draw[edge] (R07500) .. controls (1000,150) and (1080,190) .. (cHga);
\draw[edge] (cCarbD) -- (R02520);
\draw[edge] (cGentAld) -- (R02520);
\draw[edge] (cWaterB) .. controls (1335,85) and (1300,110) .. (R02520);
\draw[edge] (R02520) -- (cHga);
\draw[edge] (R02520) -- (cOxyA);
\draw[edge] (cHga) .. controls (1195,270) and (1270,298) .. (R05450);
\draw[edge] (cNadC) -- (R05450);
\draw[edge] (cWaterC) .. controls (1462,265) and (1420,290) .. (R05450);
\draw[edge] (R05450) .. controls (1260,325) and (1190,350) .. (cOxyB);
\draw[edge] (R05450) -- (cNadhC);
\draw[edge] (R05450) -- (cHpa);
\draw[edge] (R05450) .. controls (1420,325) and (1470,350) .. (cProtC);
\draw[edge] (cHpa) -- (R01372);
\draw[edge] (cCarbE) .. controls (1530,445) and (1500,470) .. (R01372);
\draw[edge] (R01372) -- (cPpy);
\draw[edge] (R01372) -- (cOxyC);
\draw[edge] (cPaa) -- (R01377);
\draw[edge] (cCarbF) -- (R01377);
\draw[edge] (R01377) -- (cPpy);
\draw[edge] (cGlu) -- (R00694);
\draw[edge] (cPpy) .. controls (1095,655) and (1085,680) .. (R00694);
\draw[edge] (R00694) -- (cPhe);
\draw[edge] (R00694) -- (cAkg);

\end{tikzpicture}
\end{document}
